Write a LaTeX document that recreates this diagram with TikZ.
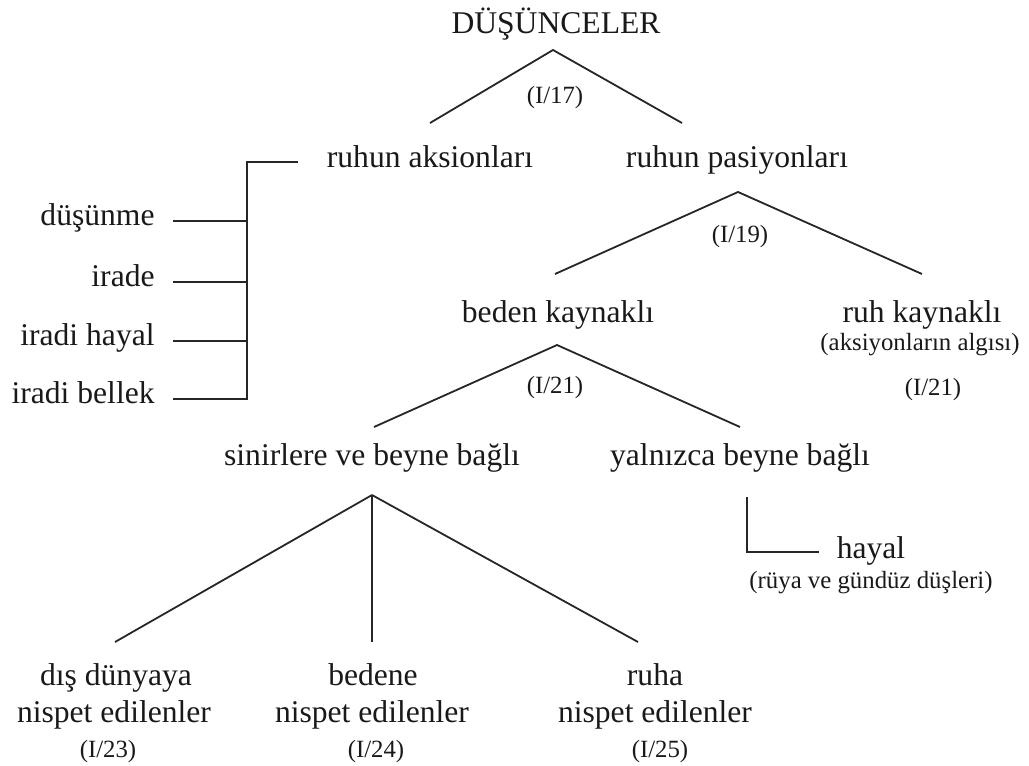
\documentclass[tikz,border=0pt]{standalone}
\usepackage{fontspec}
\setmainfont{Liberation Serif}
\usepackage{tikz}
\usetikzlibrary{calc}
\tikzset{%
  % a term of the classification
  termbox/.style={inner sep=0pt, text=black!90, font=\fontsize{15.8}{19}\selectfont},
  % reference to the article, in smaller type
  refbox/.style={inner sep=0pt, text=black!90, font=\fontsize{12.4}{15}\selectfont},
  % plain line of the tree
  branch/.style={draw=black!85, line width=0.9pt},
}

\begin{document}
\begin{tikzpicture}[x=0.5pt, y=-0.5pt]
  \useasboundingbox (0,0) rectangle (1029,766);

  % top level
  \node[termbox, anchor=base] (dus) at (556,33) {DÜŞÜNCELER};
  \node[refbox, anchor=base] (ref17) at (555,103) {(I/17)};
  \node[termbox, anchor=base] (raks) at (430,167) {ruhun aksionları};
  \node[termbox, anchor=base] (pas) at (737,167) {ruhun pasiyonları};
  \draw[branch] ($(raks.base)+(0,-44)$) -- ($(dus.base)+(-3,17)$) -- ($(pas.base)+(-55,-44)$);

  % aksions
  \node[termbox, anchor=mid east] (dusun) at (155,221) {düşünme};
  \node[termbox, anchor=mid east] (irade) at (155,282) {irade};
  \node[termbox, anchor=mid east] (ihayal) at (155,341) {iradi hayal};
  \node[termbox, anchor=mid east] (ibellek) at (155,399) {iradi bellek};
  \draw[branch] ($(raks.base)+(-132,-5)$) -| ($(ibellek.mid east)+(92,0)$) -- ($(ibellek.mid east)+(18,0)$);
  \foreach \n in {dusun, irade, ihayal} {
    \draw[branch] ($(\n.mid east)+(18,0)$) -- +(74,0);
  }

  % passions
  \node[refbox, anchor=base] (ref19) at (740,242) {(I/19)};
  \node[termbox, anchor=base] (beden) at (558,322) {beden kaynaklı};
  \node[termbox, anchor=base] (ruh) at (922,322) {ruh kaynaklı};
  \node[refbox, anchor=base] (algi) at (920,350) {(aksiyonların algısı)};
  \node[refbox, anchor=base] (ref21b) at (933,395) {(I/21)};
  \draw[branch] ($(beden.base)+(-3,-48)$) -- ($(pas.base)+(1,25)$) -- ($(ruh.base)+(0,-48)$);

  \node[refbox, anchor=base] (ref21a) at (555,393) {(I/21)};
  \node[termbox, anchor=base] (sinir) at (372,465) {sinirlere ve beyne bağlı};
  \node[termbox, anchor=base] (yaln) at (740,465) {yalnızca beyne bağlı};
  \draw[branch] ($(sinir.base)+(2,-38)$) -- ($(beden.base)+(-1,23)$) -- ($(yaln.base)+(0,-38)$);

  \node[termbox, anchor=base] (hayal) at (871,558) {hayal};
  \node[refbox, anchor=base] (ruya) at (871,588) {(rüya ve gündüz düşleri)};
  \draw[branch] ($(yaln.base)+(7,32)$) |- ($(hayal.base west)+(-17,-6)$);

  % bottom row
  \node[termbox, anchor=base] (dis) at (116,685) {dış dünyaya};
  \node[termbox, anchor=base] (nisp1) at (114,722) {nispet edilenler};
  \node[refbox, anchor=base] (ref23) at (108,757) {(I/23)};
  \node[termbox, anchor=base] (bed) at (373,685) {bedene};
  \node[termbox, anchor=base] (nisp2) at (372,722) {nispet edilenler};
  \node[refbox, anchor=base] (ref24) at (376,757) {(I/24)};
  \node[termbox, anchor=base] (ruha) at (655,685) {ruha};
  \node[termbox, anchor=base] (nisp3) at (655,722) {nispet edilenler};
  \node[refbox, anchor=base] (ref25) at (660,757) {(I/25)};
  \coordinate (sinir-v) at ($(sinir.base)+(0,30)$);
  \foreach \n/\dx in {dis/-1, bed/-1, ruha/-17} {
    \draw[branch] (sinir-v) -- ($(\n.base)+(\dx,-43)$);
  }
\end{tikzpicture}
\end{document}
